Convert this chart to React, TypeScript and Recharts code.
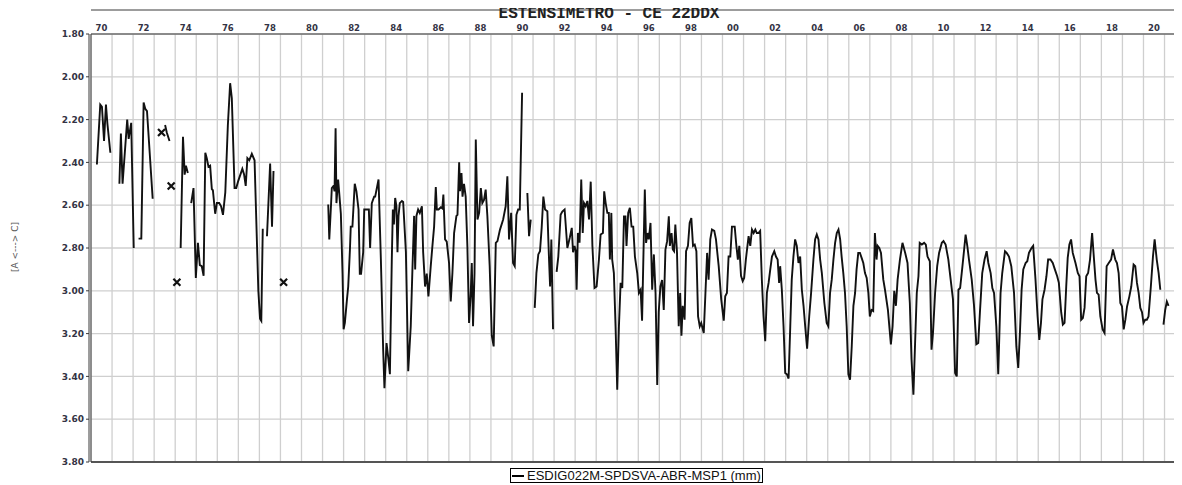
import React from 'react';
import { LineChart, Line, XAxis, YAxis, CartesianGrid } from 'recharts';

const chartTitle = 'ESTENSIMETRO - CE 22DDX';
const yAxisTitle = '[A <---> C]';
const seriesName = 'ESDIG022M-SPDSVA-ABR-MSP1 (mm)';

const xDomain: [number, number] = [1970, 2021.83];
const yTicks = [1.8, 2.0, 2.2, 2.4, 2.6, 2.8, 3.0, 3.2, 3.4, 3.6, 3.8];
const gridYears = [
  1970, 1971, 1972, 1973, 1974, 1975, 1976, 1977, 1978, 1979, 1980, 1981, 1982, 1983, 1984, 1985, 1986,
  1987, 1988, 1989, 1990, 1991, 1992, 1993, 1994, 1995, 1996, 1997, 1998, 1999, 2000, 2001, 2002, 2003,
  2004, 2005, 2006, 2007, 2008, 2009, 2010, 2011, 2012, 2013, 2014, 2015, 2016, 2017, 2018, 2019, 2020, 2021,
];
const labelYears = [
  1970, 1972, 1974, 1976, 1978, 1980, 1982, 1984, 1986, 1988, 1990, 1992, 1994, 1996, 1998, 2000, 2002,
  2004, 2006, 2008, 2010, 2012, 2014, 2016, 2018, 2020,
];

const years1970s = [
  1970.28, 1970.44, 1970.52, 1970.62, 1970.71, 1970.78, 1970.92, 1971.1,
  1971.35, 1971.42, 1971.5, 1971.72, 1971.79, 1971.91, 1972.03, 1972.15,
  1972.26, 1972.39, 1972.5, 1972.58, 1972.66, 1972.93, 1973.1,
  1973.35, 1973.45,
  1973.52, 1973.6, 1973.73, 1973.77,
  1973.81, 1973.95,
  1974.08, 1974.17,
  1974.26, 1974.37, 1974.45, 1974.51, 1974.6, 1974.68,
  1974.76, 1974.87, 1974.98, 1975.08, 1975.17, 1975.26, 1975.35, 1975.43, 1975.5, 1975.58, 1975.66,
  1975.74, 1975.79, 1975.9, 1975.98, 1976.09, 1976.18, 1976.27, 1976.38, 1976.5, 1976.61, 1976.69,
  1976.82, 1976.9, 1977.0, 1977.19, 1977.27, 1977.35, 1977.43, 1977.52, 1977.64, 1977.77, 1977.95,
  1978.03, 1978.09, 1978.16, 1978.26,
  1978.36, 1978.51, 1978.6, 1978.67, 1978.9,
  1979.15, 1980.0,
];
const values1970s = [
  2.41, 2.13, 2.14, 2.3, 2.13, 2.22, 2.355, null,
  2.5, 2.265, 2.5, 2.2, 2.29, 2.215, 2.8, null,
  2.756, 2.756, 2.12, 2.15, 2.16, 2.57, null,
  2.26, null,
  2.225, 2.26, 2.3, null,
  2.51, null,
  2.96, null,
  2.8, 2.28, 2.457, 2.415, 2.45, null,
  2.59, 2.52, 2.94, 2.776, 2.88, 2.885, 2.93, 2.355, 2.38, 2.42, 2.415,
  2.525, 2.53, 2.64, 2.59, 2.59, 2.605, 2.645, 2.54, 2.23, 2.03, 2.1,
  2.52, 2.52, 2.485, 2.43, 2.455, 2.51, 2.38, 2.39, 2.36, 2.39, 3.0,
  3.13, 3.14, 2.71, null,
  2.745, 2.405, 2.7, 2.44, null,
  2.96, null,
];

const years1980s = [
  1981.27, 1981.32, 1981.4, 1981.44, 1981.52, 1981.57, 1981.62, 1981.66, 1981.74, 1981.79, 1981.87, 1981.95,
  1982.0, 1982.06, 1982.16, 1982.22, 1982.3, 1982.34, 1982.42, 1982.53, 1982.61, 1982.71, 1982.77, 1982.83,
  1982.93, 1982.98, 1983.06, 1983.2, 1983.26, 1983.34, 1983.45, 1983.5, 1983.66, 1983.77, 1983.88, 1983.94,
  1984.04, 1984.13, 1984.2, 1984.29, 1984.34, 1984.39, 1984.45, 1984.51, 1984.56, 1984.61, 1984.67, 1984.77,
  1984.83, 1984.96, 1985.07, 1985.19, 1985.27, 1985.35, 1985.4, 1985.46, 1985.54, 1985.62, 1985.72, 1985.78,
  1985.87, 1985.95, 1986.03, 1986.14, 1986.22, 1986.3, 1986.38, 1986.43, 1986.51, 1986.62, 1986.69, 1986.74,
  1986.82, 1986.9, 1987.01, 1987.09, 1987.17, 1987.25, 1987.36, 1987.41, 1987.49, 1987.53, 1987.6, 1987.65,
  1987.72, 1987.8, 1987.88, 1987.96, 1988.04, 1988.09, 1988.15, 1988.22, 1988.28, 1988.36, 1988.44, 1988.52,
  1988.59, 1988.67, 1988.75, 1988.83, 1988.94, 1989.04, 1989.13, 1989.23, 1989.31, 1989.43, 1989.58, 1989.7,
  1989.78, 1989.86, 1989.96, 1990.05, 1990.13, 1990.21, 1990.29, 1990.37, 1990.48, 1990.6,
  1990.73, 1990.81, 1990.89, 1991.0,
  1991.08, 1991.16, 1991.25, 1991.33, 1991.41, 1991.49, 1991.57, 1991.68, 1991.76, 1991.81, 1991.87, 1991.95,
  1992.03,
  1992.12, 1992.2, 1992.31, 1992.39, 1992.5, 1992.63, 1992.75, 1992.84, 1992.9, 1992.97, 1993.02, 1993.07,
  1993.13, 1993.21, 1993.29, 1993.36, 1993.42, 1993.5, 1993.58, 1993.66, 1993.74, 1993.82, 1993.92, 1994.02,
  1994.13, 1994.21, 1994.32, 1994.38, 1994.45, 1994.53, 1994.6, 1994.65, 1994.72, 1994.76, 1994.84, 1994.92,
];
const values1980s = [
  2.597, 2.76, 2.605, 2.52, 2.51, 2.535, 2.24, 2.59, 2.48, 2.54, 2.64, 2.92,
  3.18, 3.15, 3.04, 2.98, 2.81, 2.7, 2.7, 2.5, 2.535, 2.62, 2.92, 2.92,
  2.82, 2.62, 2.62, 2.62, 2.8, 2.59, 2.56, 2.56, 2.48, 2.85, 3.275, 3.455,
  3.244, 3.32, 3.39, 2.854, 2.62, 2.69, 2.566, 2.605, 2.82, 2.65, 2.59, 2.58,
  2.585, 2.82, 3.376, 3.166, 2.9, 2.65, 2.9, 2.65, 2.62, 2.636, 2.605, 2.82,
  2.98, 2.92, 3.026, 2.885, 2.79, 2.7, 2.515, 2.62, 2.62, 2.61, 2.615, 2.55,
  2.76, 2.77, 2.87, 3.05, 2.917, 2.73, 2.65, 2.645, 2.4, 2.535, 2.45, 2.56,
  2.5, 2.56, 2.79, 3.15, 3.01, 2.87, 3.166, 2.917, 2.293, 2.667, 2.636, 2.52,
  2.59, 2.575, 2.527, 2.65, 2.885, 3.21, 3.26, 2.776, 2.768, 2.714, 2.667, 2.605,
  2.465, 2.76, 2.636, 2.87, 2.885, 2.645, 2.62, 2.62, 2.075, null,
  2.543, 2.745, 2.667, null,
  3.08, 2.917, 2.83, 2.815, 2.706, 2.56, 2.62, 2.628, 2.854, 2.98, 2.76, 3.18,
  null,
  2.912, 2.84, 2.645, 2.63, 2.62, 2.8, 2.75, 2.706, 2.82, 2.79, 2.81, 2.995,
  2.73, 2.775, 2.48, 2.73, 2.59, 2.605, 2.58, 2.667, 2.49, 2.79, 2.987, 2.98,
  2.854, 2.737, 2.73, 2.535, 2.59, 2.636, 2.636, 2.854, 2.636, 2.854, 2.917, 3.166,
];

const years1990s = [
  1995.0, 1995.08, 1995.16, 1995.24, 1995.32, 1995.39, 1995.44, 1995.52, 1995.6, 1995.68, 1995.76, 1995.84,
  1995.95, 1996.03, 1996.11, 1996.18, 1996.26, 1996.31, 1996.37, 1996.44, 1996.5, 1996.58, 1996.66, 1996.74,
  1996.82, 1996.9, 1996.97, 1997.05, 1997.13, 1997.21, 1997.29, 1997.37, 1997.45, 1997.5, 1997.58, 1997.64,
  1997.7, 1997.76, 1997.84, 1997.92, 1997.99, 1998.05, 1998.11, 1998.2, 1998.27, 1998.36, 1998.44, 1998.52,
  1998.6, 1998.68, 1998.76, 1998.84, 1998.92, 1998.99, 1999.11, 1999.19, 1999.27, 1999.34, 1999.42, 1999.5,
  1999.61, 1999.69, 1999.82, 1999.94, 2000.06, 2000.13, 2000.21, 2000.29, 2000.37, 2000.45, 2000.58, 2000.66,
  2000.73, 2000.8, 2000.88, 2000.96, 2001.03, 2001.11, 2001.24, 2001.32, 2001.4, 2001.48, 2001.56, 2001.63,
  2001.71, 2001.79, 2001.87, 2001.95, 2002.03, 2002.11, 2002.19, 2002.27, 2002.35, 2002.46, 2002.54, 2002.62,
  2002.69, 2002.74, 2002.82, 2002.9, 2002.98, 2003.06, 2003.14, 2003.22, 2003.29, 2003.37, 2003.45, 2003.53,
  2003.61, 2003.69, 2003.77, 2003.85, 2003.93, 2004.02, 2004.12, 2004.21, 2004.32, 2004.4, 2004.48, 2004.56,
  2004.64, 2004.72, 2004.84, 2004.95, 2005.03, 2005.11, 2005.19, 2005.27, 2005.35, 2005.43, 2005.51, 2005.59,
  2005.66, 2005.74, 2005.82, 2005.9, 2005.98, 2006.06, 2006.14, 2006.22, 2006.3, 2006.37, 2006.45, 2006.53,
  2006.61, 2006.69, 2006.77, 2006.85, 2006.93, 2007.0, 2007.08, 2007.16, 2007.24, 2007.32, 2007.37, 2007.45,
  2007.53, 2007.64, 2007.72, 2007.86,
];
const values1990s = [
  3.462, 3.166, 2.963, 2.987, 2.652, 2.652, 2.79, 2.636, 2.612, 2.7, 2.7, 2.84,
  2.917, 3.01, 2.995, 3.14, 2.76, 2.527, 2.776, 2.73, 2.76, 2.683, 2.995, 2.83,
  3.01, 3.44, 3.1, 2.98, 2.95, 3.09, 2.807, 2.768, 2.652, 2.79, 2.73, 2.807,
  2.815, 2.69, 2.823, 3.166, 3.01, 3.21, 3.07, 3.135, 2.815, 2.79, 2.683, 2.66,
  2.79, 2.784, 2.815, 3.12, 3.166, 3.15, 3.197, 3.01, 2.823, 2.948, 2.76, 2.714,
  2.72, 2.76, 2.885, 3.04, 3.14, 3.026, 3.01, 2.84, 2.84, 2.7, 2.7, 2.79,
  2.854, 2.79, 2.93, 2.955, 2.94, 2.854, 2.745, 2.79, 2.714, 2.73, 2.714, 2.73,
  2.73, 2.72, 2.948, 3.12, 3.236, 3.01, 2.963, 2.9, 2.84, 2.815, 2.84, 2.854,
  2.963, 2.885, 2.995, 3.166, 3.384, 3.39, 3.41, 3.166, 2.948, 2.84, 2.76, 2.79,
  2.87, 2.84, 2.995, 3.07, 3.166, 3.27, 3.12, 3.01, 2.854, 2.76, 2.737, 2.76,
  2.854, 2.917, 3.057, 3.15, 3.166, 3.01, 2.948, 2.854, 2.776, 2.73, 2.714, 2.76,
  2.84, 2.917, 3.01, 3.166, 3.39, 3.415, 3.26, 3.07, 3.01, 2.9, 2.823, 2.823,
  2.846, 2.87, 2.917, 2.94, 3.01, 3.12, 3.09, 3.095, 2.73, 2.854, 2.79, 2.8,
  2.823, 2.948, 2.995, 3.09,
];

const years2000s = [
  2008.0, 2008.08, 2008.16, 2008.24, 2008.32, 2008.43, 2008.55, 2008.68, 2008.79, 2008.9, 2008.98, 2009.07,
  2009.15, 2009.23, 2009.31, 2009.37, 2009.47, 2009.58, 2009.66, 2009.74, 2009.85, 2009.93, 2010.0, 2010.1,
  2010.2, 2010.29, 2010.42, 2010.5, 2010.6, 2010.73, 2010.84, 2010.95, 2011.05, 2011.13, 2011.21, 2011.29,
  2011.4, 2011.48, 2011.55, 2011.63, 2011.71, 2011.84, 2011.95, 2012.06, 2012.15, 2012.23, 2012.34, 2012.45,
  2012.55, 2012.63, 2012.74, 2012.82, 2012.9, 2013.01, 2013.1, 2013.21, 2013.29, 2013.42, 2013.5, 2013.61,
  2013.72, 2013.85, 2013.96, 2014.05, 2014.13, 2014.21, 2014.29, 2014.4, 2014.48, 2014.56, 2014.68, 2014.76,
  2014.87, 2014.97, 2015.05, 2015.13, 2015.2, 2015.3, 2015.39, 2015.47, 2015.58, 2015.69, 2015.79, 2015.9,
  2015.98, 2016.09, 2016.17, 2016.25, 2016.33, 2016.4, 2016.48, 2016.56, 2016.64, 2016.77, 2016.88, 2016.96,
  2017.04, 2017.12, 2017.2, 2017.28, 2017.37, 2017.46, 2017.56, 2017.64, 2017.72, 2017.79, 2017.87, 2017.95,
  2018.06, 2018.15, 2018.25, 2018.35, 2018.46, 2018.55, 2018.66, 2018.74, 2018.82, 2018.9, 2018.98, 2019.06,
  2019.14, 2019.22, 2019.33, 2019.42, 2019.53, 2019.61, 2019.69, 2019.77, 2019.85, 2019.93, 2020.0, 2020.08,
  2020.16, 2020.24, 2020.35, 2020.45, 2020.53, 2020.63, 2020.72, 2020.8, 2020.88,
  2020.95, 2021.03, 2021.11, 2021.19,
];
const values2000s = [
  3.25, 3.166, 3.0, 3.07, 2.948, 2.854, 2.776, 2.823, 2.87, 3.057, 3.32, 3.486,
  3.244, 3.01, 2.932, 2.776, 2.784, 2.776, 2.784, 2.84, 2.862, 3.275, 3.197, 3.01,
  2.885, 2.823, 2.776, 2.768, 2.784, 2.854, 2.948, 3.04, 3.384, 3.4, 2.995, 2.987,
  2.885, 2.807, 2.737, 2.79, 2.854, 2.948, 3.07, 3.25, 3.244, 3.1, 2.917, 2.854,
  2.815, 2.87, 2.917, 2.987, 3.01, 3.166, 3.39, 3.01, 2.917, 2.815, 2.823, 2.84,
  2.885, 3.01, 3.26, 3.36, 3.197, 2.995, 2.9, 2.87, 2.862, 2.823, 2.8, 2.79,
  2.948, 3.12, 3.23, 3.15, 3.04, 2.995, 2.932, 2.854, 2.854, 2.87, 2.9, 2.932,
  2.963, 3.1, 3.158, 3.15, 2.98, 2.846, 2.784, 2.76, 2.823, 2.87, 2.917, 2.932,
  3.135, 3.127, 3.08, 2.932, 2.917, 2.854, 2.73, 2.84, 2.948, 3.01, 3.018, 3.12,
  3.18, 3.197, 2.885, 2.87, 2.854, 2.807, 2.854, 2.87, 2.917, 3.057, 3.073, 3.18,
  3.135, 3.073, 3.026, 2.98, 2.877, 2.885, 2.963, 3.01, 3.08, 3.1, 3.15, 3.135,
  3.135, 3.12, 2.98, 2.84, 2.76, 2.854, 2.917, 2.995, null,
  3.158, 3.09, 3.05, 3.07,
];

const sampleYears = [...years1970s, ...years1980s, ...years1990s, ...years2000s];
const readings: (number | null)[] = [...values1970s, ...values1980s, ...values1990s, ...values2000s];
const rows = sampleYears.map((t, i) => ({ t, v: readings[i] }));

const labelTicks = labelYears.map((y) => y + 0.5);
const yearLabel = (v: number) => String(Math.floor(v) % 100).padStart(2, '0');

const IsolatedMark = (props: any) => {
  const { cx, cy, index } = props;
  const cur = readings[index];
  const prev = index > 0 ? readings[index - 1] : null;
  const next = index < readings.length - 1 ? readings[index + 1] : null;
  if (cur == null || prev != null || next != null || cx == null || cy == null) {
    return <g key={`d${index}`} />;
  }
  const s = 3.5;
  return (
    <g key={`d${index}`}>
      <path
        d={`M${cx - s},${cy - s}L${cx + s},${cy + s}M${cx - s},${cy + s}L${cx + s},${cy - s}`}
        stroke="#111"
        strokeWidth={2.2}
        fill="none"
      />
    </g>
  );
};

const axisColor = '#3a3a3a';
const tickFont = { fontFamily: 'DejaVu Sans', fontSize: 8.5, fontWeight: 'bold', fill: '#333344' };
const yTickFont = { fontFamily: 'DejaVu Sans', fontSize: 9, fontWeight: 'bold', fill: '#333344' };
const hiddenTick = { fill: 'transparent', fontSize: 1 };

const titleStyle: React.CSSProperties = {
  position: 'absolute',
  left: 601,
  top: -2,
  transform: 'translateX(-50%)',
  whiteSpace: 'nowrap',
  fontFamily: 'Liberation Mono',
  fontWeight: 'bold',
  fontSize: 16,
  lineHeight: '16px',
  color: '#222',
};

const yTitleStyle: React.CSSProperties = {
  position: 'absolute',
  left: 7,
  top: 239,
  transform: 'translate(-50%, -50%) rotate(-90deg)',
  whiteSpace: 'nowrap',
  fontFamily: 'DejaVu Sans',
  fontSize: 9,
  lineHeight: '10px',
  color: '#555',
};

const legendStyle: React.CSSProperties = {
  position: 'absolute',
  left: 502,
  top: 460,
  width: 253,
  height: 15,
  boxSizing: 'border-box',
  border: '1px solid #000',
  display: 'flex',
  alignItems: 'center',
  background: '#fff',
};

const legendTextStyle: React.CSSProperties = {
  marginLeft: 3,
  fontFamily: 'Liberation Sans',
  fontSize: 13,
  lineHeight: '13px',
  whiteSpace: 'nowrap',
  color: '#111',
};

export default function App() {
  return (
    <div style={{ position: 'relative', width: 1174, height: 477 }}>
      <LineChart width={1174} height={477} data={rows} margin={{ top: 0, right: 0, bottom: 22, left: 0 }}>
        <XAxis
          xAxisId="topInner"
          orientation="top"
          type="number"
          dataKey="t"
          domain={xDomain}
          allowDataOverflow
          height={2}
          tick={false}
          tickLine={false}
          axisLine={{ stroke: axisColor }}
        />
        <XAxis
          xAxisId="top"
          orientation="top"
          type="number"
          dataKey="t"
          domain={xDomain}
          allowDataOverflow
          ticks={labelTicks}
          interval={0}
          tickFormatter={yearLabel}
          height={24}
          tickLine={false}
          tickSize={0}
          tickMargin={3}
          tick={tickFont}
          axisLine={{ stroke: axisColor }}
        />
        <XAxis
          xAxisId="grid"
          orientation="bottom"
          type="number"
          dataKey="t"
          domain={xDomain}
          allowDataOverflow
          ticks={gridYears}
          interval={0}
          height={1}
          tick={hiddenTick}
          tickLine={false}
          axisLine={{ stroke: '#555', strokeWidth: 2 }}
        />
        <YAxis
          yAxisId="inner"
          type="number"
          domain={[1.8, 3.8]}
          reversed
          allowDataOverflow
          width={2}
          tick={false}
          tickLine={false}
          axisLine={{ stroke: axisColor }}
        />
        <YAxis
          yAxisId="main"
          type="number"
          domain={[1.8, 3.8]}
          reversed
          allowDataOverflow
          ticks={yTicks}
          interval={0}
          tickFormatter={(v: number) => v.toFixed(2)}
          width={81}
          tickSize={3}
          tickMargin={2}
          tick={yTickFont}
          tickLine={{ stroke: axisColor }}
          axisLine={{ stroke: axisColor }}
        />
        <CartesianGrid xAxisId="grid" yAxisId="main" stroke="#cfcfcf" strokeWidth={1.3} vertical horizontal />
        <Line
          xAxisId="grid"
          yAxisId="main"
          type="linear"
          dataKey="v"
          name={seriesName}
          stroke="#111"
          strokeWidth={1.9}
          connectNulls={false}
          dot={IsolatedMark}
          activeDot={false}
          isAnimationActive={false}
        />
      </LineChart>
      <div style={titleStyle}>{chartTitle}</div>
      <div style={yTitleStyle}>{yAxisTitle}</div>
      <div style={legendStyle}>
        <span style={{ display: 'inline-block', width: 12, height: 2, background: '#000', marginLeft: 1 }} />
        <span style={legendTextStyle}>{seriesName}</span>
      </div>
    </div>
  );
}
